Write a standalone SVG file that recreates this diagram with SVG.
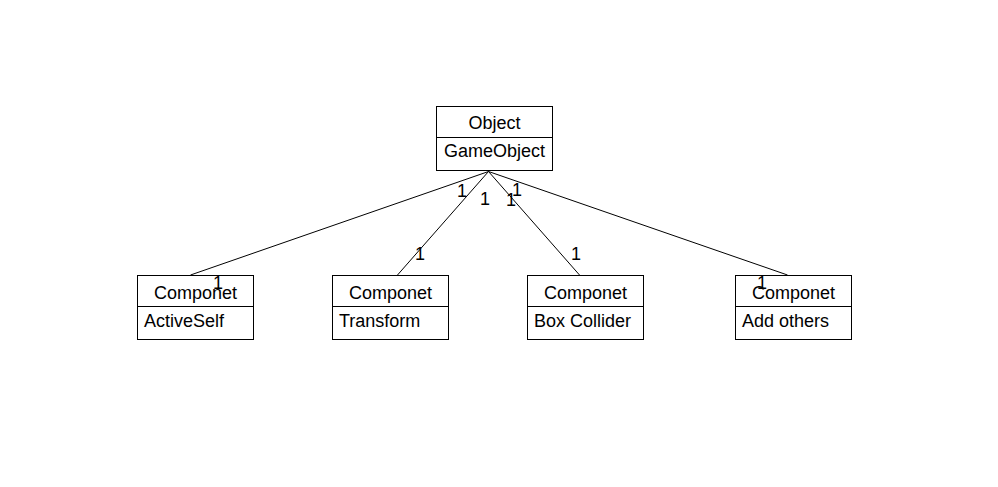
<svg xmlns="http://www.w3.org/2000/svg" width="998" height="487" viewBox="0 0 998 487">
<style>
.box{fill:#fff;stroke:#000;stroke-width:1}
.div{stroke:#000;stroke-width:1}
.t{font-family:"Liberation Sans",Arial,sans-serif;font-size:18px;fill:#000}
.c{text-anchor:middle}
.conn line{stroke:#000;stroke-width:1}
</style>
<rect width="998" height="487" fill="#fff"/>
<g class="conn" id="connectors">
<line x1="488.5" y1="171.5" x2="190.5" y2="275"/>
<line x1="488.5" y1="171.5" x2="397.5" y2="275"/>
<line x1="488.5" y1="171.5" x2="579.5" y2="275"/>
<line x1="488.5" y1="171.5" x2="787.5" y2="275"/>
</g>
<g id="object">
<rect class="box" x="436.5" y="106.5" width="116" height="64"/>
<line class="div" x1="436.5" y1="137.5" x2="552.5" y2="137.5"/>
<text class="t c" x="494.5" y="129">Object</text>
<text class="t c" x="494.5" y="157">GameObject</text>
</g>
<g id="comp1">
<rect class="box" x="137.5" y="275.5" width="116" height="64"/>
<line class="div" x1="137.5" y1="306.5" x2="253.5" y2="306.5"/>
<text class="t c" x="195.5" y="299">Componet</text>
<text class="t" x="144" y="327">ActiveSelf</text>
</g>
<g id="comp2">
<rect class="box" x="332.5" y="275.5" width="116" height="64"/>
<line class="div" x1="332.5" y1="306.5" x2="448.5" y2="306.5"/>
<text class="t c" x="390.5" y="299">Componet</text>
<text class="t" x="339" y="327">Transform</text>
</g>
<g id="comp3">
<rect class="box" x="527.5" y="275.5" width="116" height="64"/>
<line class="div" x1="527.5" y1="306.5" x2="643.5" y2="306.5"/>
<text class="t c" x="585.5" y="299">Componet</text>
<text class="t" x="534" y="327">Box Collider</text>
</g>
<g id="comp4">
<rect class="box" x="735.5" y="275.5" width="116" height="64"/>
<line class="div" x1="735.5" y1="306.5" x2="851.5" y2="306.5"/>
<text class="t c" x="793.5" y="299">Componet</text>
<text class="t" x="742" y="327">Add others</text>
</g>
<g id="labels">
<text class="t c" x="462" y="197">1</text>
<text class="t c" x="485" y="205">1</text>
<text class="t c" x="511" y="206">1</text>
<text class="t c" x="517" y="196">1</text>
<text class="t c" x="218" y="289">1</text>
<text class="t c" x="420" y="260">1</text>
<text class="t c" x="576" y="260">1</text>
<text class="t c" x="762" y="289">1</text>
</g>
</svg>
